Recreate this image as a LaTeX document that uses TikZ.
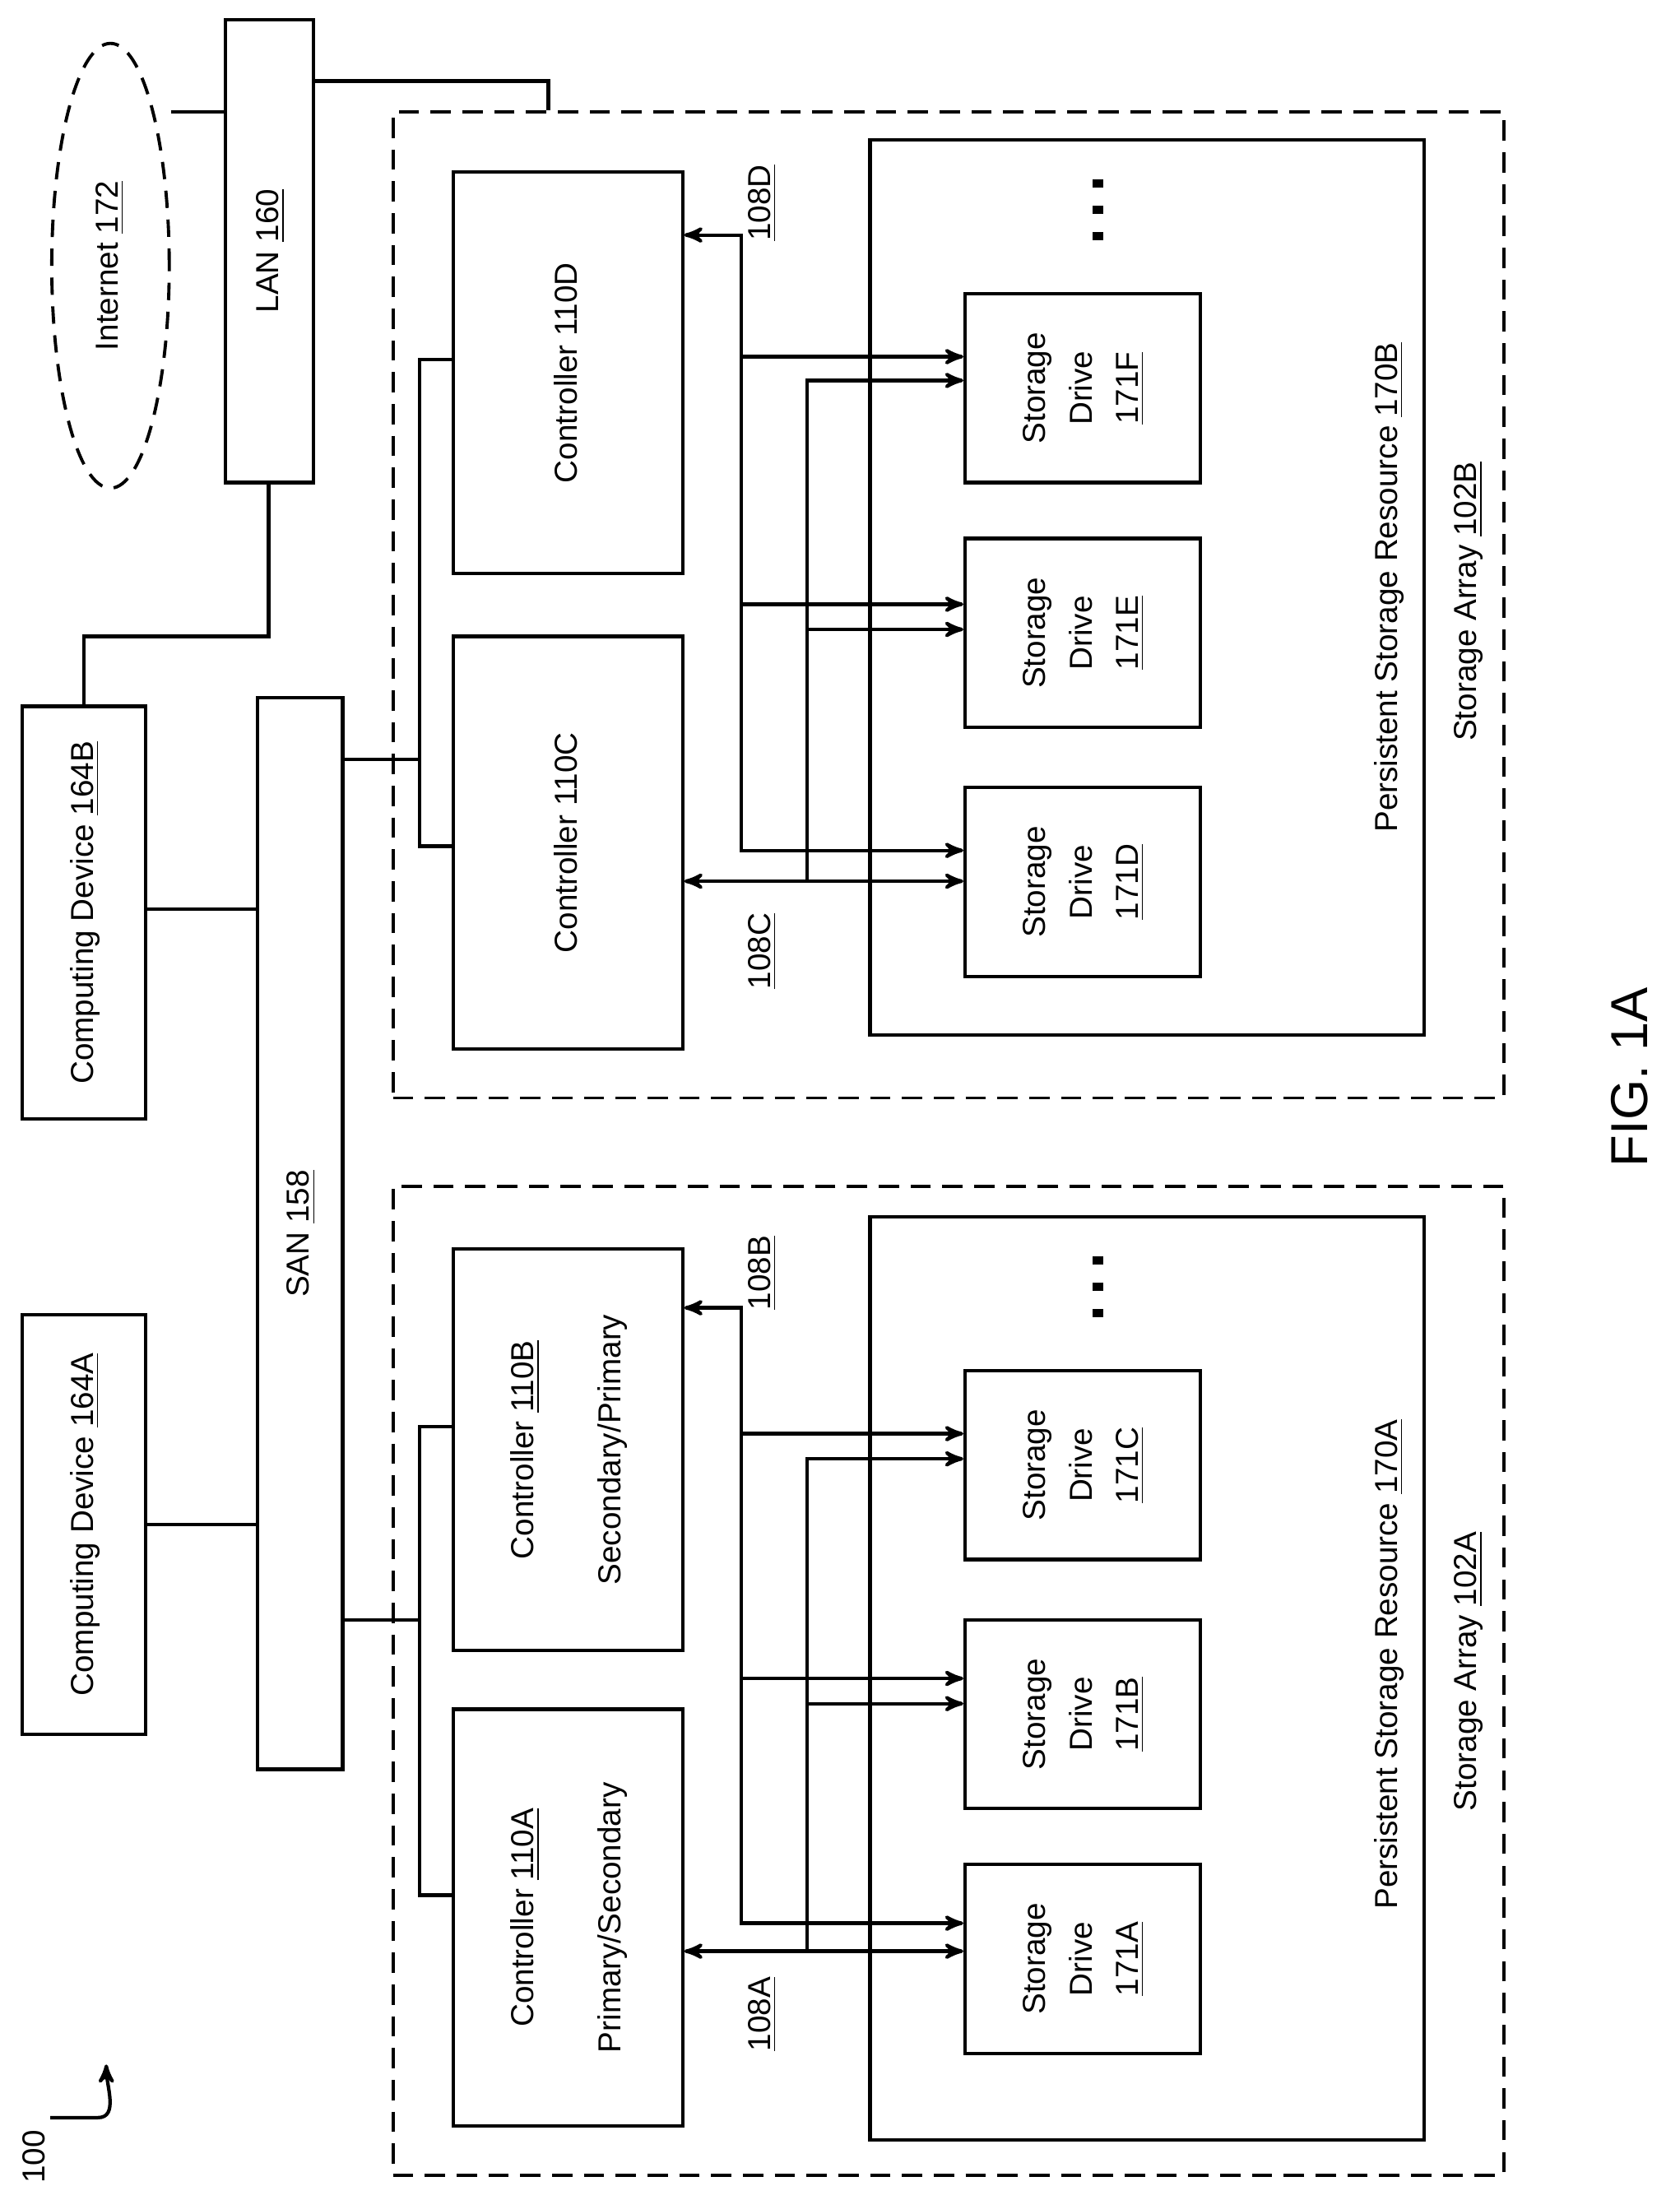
\documentclass[tikz,border=0pt]{standalone}
\usepackage{fontspec}
\setmainfont{Liberation Sans}
\usetikzlibrary{arrows,fit,shapes.geometric}
\newcommand{\rot}[1]{\rotatebox{90}{\begin{tabular}{@{}c@{}}#1\end{tabular}}}
\tikzset{box/.style={draw,line width=1.2pt,inner sep=0pt},
         txt/.style={label={[font=\fontsize{11}{16}\selectfont]center:\rot{#1}}},
         dbox/.style={draw,line width=1.1pt,dash pattern=on 7pt off 4pt,inner sep=0pt},
         lbl/.style={rotate=90,font=\fontsize{11}{13}\selectfont},
         bus/.style={line width=1.2pt}}
\begin{document}
\begin{tikzpicture}[x=0.017cm,y=-0.017cm,>=stealth',semithick]
  \useasboundingbox (0,0) rectangle (1200.6,1572.9);

  \node[draw,line width=1.1pt,dash pattern=on 6pt off 4pt,ellipse,inner sep=0pt,
        minimum width=84*0.017cm,minimum height=318*0.017cm,
        font=\fontsize{11}{13}\selectfont] (inet) at (79,190) {\rot{Internet \underline{172}}};
  \node[box,fit={(161,14)(224,345)},txt={LAN \underline{160}}]  (lan)  {};
  \node[box,fit={(16,505)(104,800)},txt={Computing Device \underline{164B}}]  (cdB)  {};
  \node[box,fit={(16,940)(104,1240)},txt={Computing Device \underline{164A}}] (cdA)  {};
  \node[box,fit={(184,499)(245,1265)},txt={SAN \underline{158}}] (san) {};

  % storage arrays
  \node[dbox,fit={(281,80)(1075,785)}]   (saB) {};
  \node[dbox,fit={(281,848)(1075,1555)}] (saA) {};
  \node[lbl] at (1050,430)  {Storage Array \underline{102B}};
  \node[lbl] at (1050,1195) {Storage Array \underline{102A}};
  \node[box,fit={(622,100)(1018,740)}]  (psB) {};
  \node[box,fit={(622,870)(1018,1530)}] (psA) {};
  \node[lbl] at (993,420)  {Persistent Storage Resource \underline{170B}};
  \node[lbl] at (993,1190) {Persistent Storage Resource \underline{170A}};

  % controllers
  \node[box,fit={(324,123)(488,410)},txt={Controller 110D}]   (cD) {};
  \node[box,fit={(324,455)(488,750)},txt={Controller 110C}]   (cC) {};
  \node[box,fit={(324,893)(488,1180)},txt={Controller \underline{110B}\\[14pt] Secondary/Primary}]  (cB) {};
  \node[box,fit={(324,1222)(488,1520)},txt={Controller \underline{110A}\\[14pt] Primary/Secondary}] (cA) {};

  % drives
  \node[box,fit={(690,210)(858,345)},txt={Storage\\Drive\\\underline{171F}}]   (dF) {};
  \node[box,fit={(690,385)(858,520)},txt={Storage\\Drive\\\underline{171E}}]   (dE) {};
  \node[box,fit={(690,563)(858,698)},txt={Storage\\Drive\\\underline{171D}}]   (dD) {};
  \node[box,fit={(690,980)(858,1115)},txt={Storage\\Drive\\\underline{171C}}]  (dC) {};
  \node[box,fit={(690,1158)(858,1293)},txt={Storage\\Drive\\\underline{171B}}] (dB) {};
  \node[box,fit={(690,1333)(858,1468)},txt={Storage\\Drive\\\underline{171A}}] (dA) {};
  \foreach \y in {128,147,166,898,917,936}
    \fill (781,\y) rectangle (789,\y+6);

  \node[lbl] at (545,145)  {\underline{108D}};
  \node[lbl] at (545,680)  {\underline{108C}};
  \node[lbl] at (545,910)  {\underline{108B}};
  \node[lbl] at (545,1440) {\underline{108A}};

  % network lines
  \draw[bus] (inet.east |- 0,80) -- (lan.west |- 0,80);
  \draw[bus] (lan.east |- 0,58) -- (392,58) -- (saB.north -| 392,0);
  \draw[bus] (lan.south -| 192,0) -- (192,455) -- (60,455) -- (cdB.north -| 60,0);
  \draw[bus] (cdB.east |- 0,650) -- (san.west |- 0,650);
  \draw[bus] (cdA.east |- 0,1090) -- (san.west |- 0,1090);
  \draw[bus] (san.east |- 0,543) -- (300,543);
  \draw[bus] (cD.west |- 0,257) -- (300,257) -- (300,605) -- (cC.west |- 0,605);
  \draw[bus] (san.east |- 0,1158) -- (300,1158);
  \draw[bus] (cB.west |- 0,1020) -- (300,1020) -- (300,1355) -- (cA.west |- 0,1355);

  % drive buses
  \draw[bus,<->] (cD.east |- 0,168) -- (530,168) -- (530,608) -- (dD.west |- 0,608);
  \draw[bus,->] (530,255) -- (dF.west |- 0,255);
  \draw[bus,->] (530,432) -- (dE.west |- 0,432);
  \draw[bus,<->] (cC.east |- 0,630) -- (dD.west |- 0,630);
  \draw[bus,->] (577,630) -- (577,272) -- (dF.west |- 0,272);
  \draw[bus,->] (577,450) -- (dE.west |- 0,450);

  \draw[bus,<->] (cB.east |- 0,935) -- (530,935) -- (530,1375) -- (dA.west |- 0,1375);
  \draw[bus,->] (530,1025) -- (dC.west |- 0,1025);
  \draw[bus,->] (530,1200) -- (dB.west |- 0,1200);
  \draw[bus,<->] (cA.east |- 0,1395) -- (dA.west |- 0,1395);
  \draw[bus,->] (577,1395) -- (577,1043) -- (dC.west |- 0,1043);
  \draw[bus,->] (577,1218) -- (dB.west |- 0,1218);

  \node[rotate=90,font=\fontsize{18}{20}\selectfont] (fig) at (1165,770) {FIG. 1A};
  \node[lbl] (ref) at (24,1542) {100};
  \coordinate (refend) at (76,1476);
  \draw[line width=1.2pt,->] (36,1514) -- (70,1514) to[out=0,in=-90] (refend);
\end{tikzpicture}
\end{document}
